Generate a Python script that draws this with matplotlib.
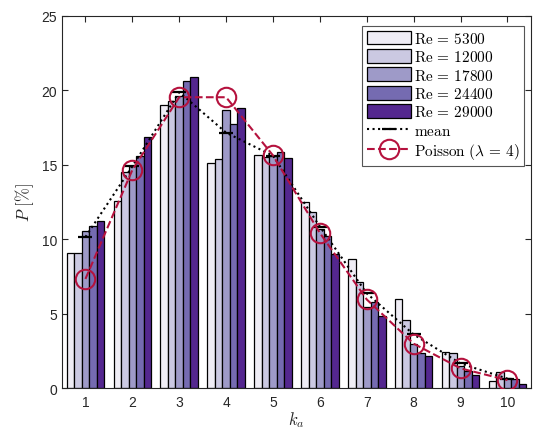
import numpy as np
import matplotlib.pyplot as plt

plt.rcParams['mathtext.fontset'] = 'cm'
plt.rcParams['font.family'] = ['Liberation Sans', 'DejaVu Sans']

k = np.arange(1, 11)
reynolds = [5300, 12000, 17800, 24400, 29000]

# probability per k_a for each Reynolds number [%]
p_re5300 = [9.05, 12.55, 19.0, 15.1, 15.65, 12.5, 8.65, 5.95, 2.4, 0.45]
p_re12000 = [9.05, 14.5, 19.3, 15.4, 15.5, 11.85, 7.1, 4.6, 2.35, 1.1]
p_re17800 = [10.55, 14.95, 19.6, 18.7, 15.6, 10.7, 5.45, 2.95, 1.5, 0.7]
p_re24400 = [10.9, 15.6, 20.6, 17.75, 15.85, 10.2, 5.75, 2.35, 1.15, 0.6]
p_re29000 = [11.2, 16.85, 20.9, 18.85, 15.45, 9.0, 4.85, 2.15, 0.85, 0.3]
poisson = [7.33, 14.65, 19.54, 19.54, 15.63, 10.42, 5.95, 2.98, 1.32, 0.53]

series = [p_re5300, p_re12000, p_re17800, p_re24400, p_re29000]
colors = ['#efedf5', '#cbc9e2', '#9e9ac8', '#756bb1', '#54278f']
mean = np.mean(series, axis=0)

fig = plt.figure(figsize=(5.33, 4.31), dpi=100)
ax = fig.add_axes([0.1163, 0.0974, 0.8797, 0.8632])

w = 0.16
handles = []
for i, (vals, c, re) in enumerate(zip(series, colors, reynolds)):
    b = ax.bar(k + (i - 2) * w, vals, width=w, color=c, edgecolor='black',
               linewidth=0.9, label=r'$\mathrm{Re}\,=\,%d$' % re, zorder=2)
    handles.append(b)

ln_mean, = ax.plot(k, mean, color='black', linestyle=':', linewidth=1.5,
                   marker='_', markersize=10, markeredgewidth=1.6,
                   label=r'$\mathrm{mean}$', zorder=3)
ln_pois, = ax.plot(k, poisson, color='#b5123e', linestyle='--', linewidth=1.5,
                   marker='o', markersize=14, markerfacecolor='none',
                   markeredgewidth=1.5,
                   label=r'$\mathrm{Poisson}\ (\lambda\,=\,4)$', zorder=4)
handles += [ln_mean, ln_pois]

ax.set_xlim(0.5, 10.5)
ax.set_ylim(0, 25)
ax.set_xticks(k)
ax.set_yticks([0, 5, 10, 15, 20, 25])
ax.tick_params(direction='in', top=True, right=True, labelsize=10,
               colors='#262626', length=4)
ax.tick_params(axis='x', pad=5)
for s in ax.spines.values():
    s.set_color('#262626')
    s.set_linewidth(0.8)

ax.set_xlabel(r'$k_a$', fontsize=12, color='#262626', labelpad=0)
ax.set_ylabel(r'$P\ [\%]$', fontsize=12, color='#262626', labelpad=4)

leg = ax.legend(handles=handles, loc='upper right',
                bbox_to_anchor=(0.986, 0.973), borderaxespad=0,
                fontsize=11, handlelength=2.9, handleheight=1.0,
                handletextpad=0.2, labelspacing=0.22, borderpad=0.3,
                fancybox=False, edgecolor='#555555', framealpha=1)
leg.get_frame().set_linewidth(0.8)

fig.savefig('out.png', dpi=100)
